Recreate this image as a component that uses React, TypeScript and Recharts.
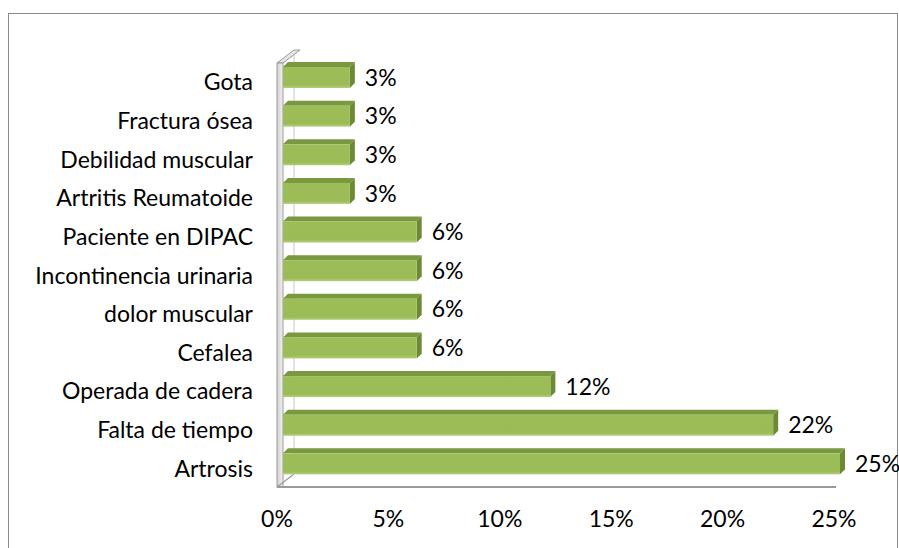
import React from 'react';
import { BarChart, Bar, XAxis, YAxis, LabelList, Customized } from 'recharts';

const categories = [
  'Gota',
  'Fractura ósea',
  'Debilidad muscular',
  'Artritis Reumatoide',
  'Paciente en DIPAC',
  'Incontinencia urinaria',
  'dolor muscular',
  'Cefalea',
  'Operada de cadera',
  'Falta de tiempo',
  'Artrosis',
];
const values = [3, 3, 3, 3, 6, 6, 6, 6, 12, 22, 25];
const xTicks = [0, 5, 10, 15, 20, 25];

const data = categories.map((name, i) => ({ name, v: values[i] }));

const W = 899;
const H = 548;
const M = { top: 58, right: 59, bottom: 25, left: 133 };
const YW = 150;
const XH = 40;
const FONT = 'Lato, "Open Sans", sans-serif';
const FS = 23;

const plotLeft = M.left + YW;
const plotTop = M.top;
const plotBottom = H - M.bottom - XH;
const plotRight = W - M.right;

const DX = 5;
const DY = 5;

const Bar3D = (props: any) => {
  const { x, y, width, height } = props;
  if (width == null || height == null) return null;
  return (
    <g>
      <polygon
        points={`${x},${y} ${x + DX},${y - DY} ${x + width + DX},${y - DY} ${x + width},${y}`}
        fill="#7A983F"
      />
      <polygon
        points={`${x + width},${y} ${x + width + DX},${y - DY} ${x + width + DX},${y + height - DY} ${x + width},${y + height}`}
        fill="#6C8934"
      />
      <rect x={x} y={y} width={width} height={height} fill="url(#frontGrad)" />
    </g>
  );
};

const Frame = () => {
  const fx = plotLeft - 6;
  const top = plotTop + 5;
  const floorY = plotBottom + 4;
  const ddx = 17;
  const ddy = 13;
  return (
    <g>
      <line x1={fx + ddx} y1={top - ddy} x2={fx + ddx} y2={floorY - ddy} stroke="#c8c8c8" strokeWidth={1} />
      <polygon
        points={`${fx},${top} ${fx + 6},${top} ${fx + 6 + ddx},${top - ddy} ${fx + ddx},${top - ddy}`}
        fill="#e6e6e6"
        stroke="#9a9a9a"
        strokeWidth={1}
      />
      <rect x={fx} y={top} width={6} height={floorY - top} fill="url(#wallGrad)" stroke="#9a9a9a" strokeWidth={1} />
      <line x1={fx} y1={floorY} x2={fx + ddx} y2={floorY - ddy} stroke="#9a9a9a" strokeWidth={1.2} />
      <line x1={fx} y1={floorY} x2={plotRight - 4} y2={floorY} stroke="#9a9a9a" strokeWidth={2} />
    </g>
  );
};

const YTick = (props: any) => {
  const { x, y, payload } = props;
  return (
    <text x={x} y={y} dy={13} textAnchor="end" fontFamily={FONT} fontSize={FS} fill="#000">
      {payload.value}
    </text>
  );
};

const XTick = (props: any) => {
  const { x, y, payload } = props;
  return (
    <text x={x - 6} y={y} dy={36} textAnchor="middle" fontFamily={FONT} fontSize={FS} fill="#000">
      {`${payload.value}%`}
    </text>
  );
};

export default function App() {
  return (
    <div style={{ position: 'fixed', left: 0, top: 0, width: W, height: H, background: '#fff' }}>
      <div
        style={{
          position: 'absolute',
          left: 8,
          top: 13,
          width: 890,
          height: 600,
          border: '1.5px solid #8a8a8a',
          boxSizing: 'border-box',
        }}
      />
      <div style={{ position: 'absolute', left: 0, top: 0 }}>
        <BarChart width={W} height={H} data={data} layout="vertical" margin={M} barSize={21}>
          <defs>
            <linearGradient id="frontGrad" x1="0" y1="0" x2="0" y2="1">
              <stop offset="0%" stopColor="#9CBD58" />
              <stop offset="85%" stopColor="#9ABB56" />
              <stop offset="100%" stopColor="#B3CE7C" />
            </linearGradient>
            <linearGradient id="wallGrad" x1="0" y1="0" x2="1" y2="0">
              <stop offset="0%" stopColor="#d0d0d0" />
              <stop offset="100%" stopColor="#f2f2f2" />
            </linearGradient>
          </defs>
          <Customized component={Frame} />
          <XAxis
            type="number"
            domain={[0, 25]}
            ticks={xTicks}
            axisLine={false}
            tickLine={false}
            height={XH}
            tick={<XTick />}
            interval={0}
          />
          <YAxis
            type="category"
            dataKey="name"
            width={YW}
            axisLine={false}
            tickLine={false}
            tickSize={0}
            tickMargin={30}
            tick={<YTick />}
            interval={0}
          />
          <Bar dataKey="v" shape={<Bar3D />} isAnimationActive={false}>
            <LabelList
              dataKey="v"
              position="right"
              offset={15}
              formatter={(v: any) => `${v}%`}
              style={{ fontFamily: FONT, fontSize: FS, fill: '#000' }}
            />
          </Bar>
        </BarChart>
      </div>
    </div>
  );
}
